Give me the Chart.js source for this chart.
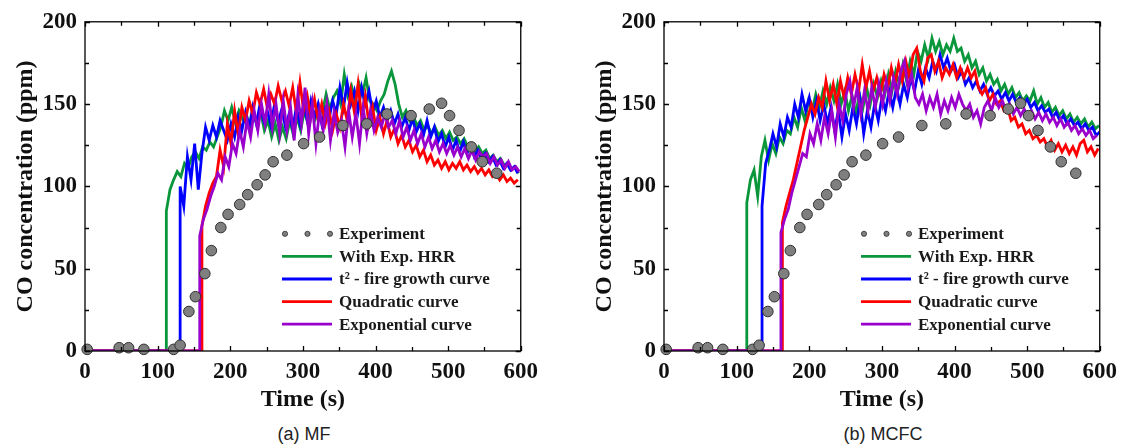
<!DOCTYPE html>
<html>
<head>
<meta charset="utf-8">
<script src="https://cdn.jsdelivr.net/npm/chart.js@4.4.1/dist/chart.umd.min.js"></script>
<style>
  html, body { margin: 0; padding: 0; background: #fff; }
  body { width: 1126px; height: 448px; position: relative; overflow: hidden; }
  .panel { position: absolute; top: 0; width: 545px; height: 420px; }
  .caption {
    position: absolute; top: 424px; width: 200px; text-align: center;
    font: 18px "Liberation Sans", Arial, sans-serif; color: #222;
  }
</style>
</head>
<body>
<div class="panel" style="left:0px"><canvas id="mf" width="545" height="420"></canvas></div>
<div class="panel" style="left:579px"><canvas id="mcfc" width="545" height="420"></canvas></div>
<div class="caption" style="left:204px">(a) MF</div>
<div class="caption" style="left:783px">(b) MCFC</div>
<script>
// sample spacing of the simulated traces (s)
const STEP = 5;

// measured CO (same test series in both panels)
const expTime = [3, 47, 60, 81, 122, 131, 143, 152, 165, 174, 187, 197, 213, 224, 237, 248, 259, 278, 301, 323, 355, 388, 416, 449, 474, 491, 502, 515, 532, 547, 567];
const expConc = [1, 2, 2, 1, 1, 3.5, 24, 33, 47, 61, 75, 83, 89, 95, 101, 107, 115, 119, 126, 130, 137, 138, 144, 143, 147, 150.5, 143, 134, 124, 115, 108];

// (a) MF — simulated traces, each starts at its onset time
const mfHrrStart = 112;
const mfHrr = [85, 98, 104, 109, 106, 114, 111, 118, 121, 117, 124, 122, 127, 124, 130, 136, 146, 140, 148, 139,
  146, 141, 144, 136, 142, 138, 145, 134, 140, 130, 138, 128, 136, 129, 140, 131, 142, 134, 146, 138,
  150, 141, 148, 145, 156, 147, 154, 158, 150, 168, 155, 161, 152, 163, 156, 166, 152, 150, 146, 152,
  156, 164, 170, 162, 150, 142, 146, 140, 143, 137, 140, 134, 137, 132, 136, 131, 134, 129, 133, 128,
  130, 126, 129, 124, 126, 121, 124, 120, 122, 117, 119, 115, 117, 113, 114, 110, 112, 108];
const mfT2Start = 131;
const mfT2 = [100, 88, 118, 104, 126, 98, 120, 136, 128, 137, 130, 140, 134, 128, 138, 130, 142, 134, 145, 136,
  148, 138, 150, 140, 146, 137, 150, 139, 147, 136, 144, 135, 148, 138, 150, 140, 152, 142, 150, 138,
  147, 141, 152, 144, 160, 148, 163, 150, 158, 146, 160, 150, 158, 145, 152, 142, 148, 140, 146, 138,
  144, 136, 142, 134, 141, 133, 138, 131, 140, 130, 136, 127, 132, 124, 130, 122, 128, 121, 127, 120,
  125, 118, 122, 117, 120, 115, 118, 113, 116, 111, 114, 110, 112, 108];
const mfQuadStart = 161;
const mfQuad = [76, 88, 96, 102, 106, 122, 112, 138, 126, 146, 132, 148, 140, 152, 144, 157, 150, 159, 148, 156,
  150, 161, 152, 158, 149, 160, 145, 163, 146, 155, 142, 153, 140, 150, 138, 146, 134, 144, 136, 150,
  140, 158, 145, 162, 142, 155, 138, 148, 134, 142, 132, 140, 130, 135, 126, 131, 124, 128, 121, 125,
  118, 122, 115, 119, 113, 116, 111, 115, 110, 114, 111, 115, 110, 113, 109, 112, 108, 111, 107, 110,
  106, 108, 104, 107, 103, 105, 102, 104];
const mfExpoStart = 158;
const mfExpo = [70, 80, 86, 94, 100, 108, 104, 118, 112, 126, 120, 134, 124, 140, 130, 146, 134, 150, 138, 156,
  136, 150, 132, 152, 134, 148, 128, 155, 138, 160, 132, 150, 126, 146, 134, 150, 128, 145, 133, 140,
  124, 146, 130, 144, 126, 148, 132, 146, 134, 142, 136, 144, 136, 140, 132, 140, 130, 136, 128, 134,
  126, 132, 124, 130, 123, 128, 121, 126, 120, 125, 119, 124, 118, 123, 117, 122, 116, 121, 118, 120,
  114, 118, 113, 116, 111, 115, 110, 112, 109];

// (b) MCFC — simulated traces
const mcfcHrrStart = 114;
const mcfcHrr = [90, 104, 110, 94, 118, 128, 116, 126, 120, 130, 126, 134, 132, 142, 136, 148, 140, 152, 146, 156,
  148, 158, 150, 160, 152, 162, 150, 158, 146, 155, 144, 156, 148, 160, 150, 162, 154, 164, 156, 168,
  158, 170, 162, 174, 164, 176, 168, 182, 176, 186, 178, 190, 182, 188, 180, 186, 182, 190, 182, 184,
  176, 180, 172, 176, 168, 172, 164, 168, 162, 165, 158, 162, 156, 160, 154, 157, 152, 155, 152, 158,
  150, 154, 148, 151, 145, 148, 143, 146, 141, 144, 139, 142, 138, 141, 136, 139, 135, 137];
const mcfcT2Start = 135;
const mcfcT2 = [88, 114, 122, 132, 124, 138, 130, 142, 136, 150, 142, 156, 146, 154, 142, 152, 140, 150, 138, 148,
  134, 146, 130, 144, 134, 148, 138, 152, 132, 146, 136, 150, 140, 154, 146, 158, 148, 160, 150, 162,
  154, 166, 158, 170, 162, 172, 166, 176, 170, 180, 172, 178, 170, 174, 166, 170, 162, 166, 160, 164,
  158, 162, 156, 160, 155, 158, 153, 157, 152, 156, 151, 154, 150, 153, 148, 151, 146, 149, 145, 147,
  142, 145, 140, 143, 138, 141, 137, 139, 135, 138, 134, 136, 131, 133];
const mcfcQuadStart = 163;
const mcfcQuad = [78, 88, 96, 104, 114, 124, 134, 142, 150, 144, 154, 148, 164, 152, 162, 150, 164, 154, 166, 156,
  168, 158, 174, 160, 170, 158, 166, 156, 168, 160, 172, 162, 174, 164, 176, 166, 180, 184, 170, 164,
  178, 180, 170, 176, 166, 172, 168, 174, 166, 172, 166, 172, 166, 170, 160, 156, 160, 152, 156, 150,
  152, 146, 148, 140, 142, 136, 138, 132, 134, 129, 131, 127, 129, 124, 128, 122, 126, 121, 125, 120,
  124, 119, 126, 128, 121, 124, 119, 123];
const mcfcExpoStart = 161;
const mcfcExpo = [72, 80, 86, 96, 104, 112, 120, 118, 132, 126, 138, 128, 142, 132, 146, 130, 150, 140, 156, 164,
  148, 160, 144, 158, 146, 160, 148, 162, 150, 164, 152, 166, 156, 170, 176, 160, 168, 154, 150, 156,
  146, 154, 148, 156, 144, 152, 146, 154, 148, 156, 150, 146, 150, 142, 146, 138, 148, 152, 146, 154,
  148, 152, 146, 150, 144, 148, 143, 147, 142, 146, 141, 145, 140, 144, 139, 142, 137, 141, 136, 139,
  134, 137, 132, 135, 131, 134, 129, 131];

const SERIF = '"Liberation Serif", "Times New Roman", serif';

function trace(start, vals) {
  const pts = [{ x: 0, y: 0 }, { x: start, y: 0 }];
  vals.forEach((v, i) => pts.push({ x: start + i * STEP, y: v }));
  return pts;
}

// closed frame with inward ticks on all four sides
const framePlugin = {
  id: 'frame',
  afterDraw(chart) {
    const { ctx, chartArea: { left, right, top, bottom }, scales: { x, y } } = chart;
    ctx.save();
    ctx.strokeStyle = '#000';
    ctx.lineWidth = 1.3;
    ctx.strokeRect(left, top, right - left, bottom - top);
    ctx.beginPath();
    for (let t = 0; t <= 600; t += 50) {
      const px = Math.round(x.getPixelForValue(t)) + 0.5;
      const len = t % 100 === 0 ? 5 : 4;
      ctx.moveTo(px, bottom); ctx.lineTo(px, bottom - len);
      ctx.moveTo(px, top); ctx.lineTo(px, top + len);
    }
    for (let v = 0; v <= 200; v += 25) {
      const py = Math.round(y.getPixelForValue(v)) + 0.5;
      const len = v % 50 === 0 ? 5 : 4;
      ctx.moveTo(left, py); ctx.lineTo(left + len, py);
      ctx.moveTo(right, py); ctx.lineTo(right - len, py);
    }
    ctx.stroke();
    ctx.restore();
  }
};

// legend drawn inside the plot area
const legendOrder = ['Experiment', 'With Exp. HRR', 't² - fire growth curve', 'Quadratic curve', 'Exponential curve'];
const boxLegend = {
  id: 'boxLegend',
  afterDraw(chart) {
    const { ctx, chartArea: { left, top } } = chart;
    const x0 = left + 197, y0 = top + 212, row = 22.6;
    ctx.save();
    ctx.font = 'bold 17px ' + SERIF;
    ctx.textBaseline = 'middle';
    legendOrder.forEach((name, i) => {
      const ds = chart.data.datasets.find(d => d.label === name);
      const yy = y0 + i * row;
      if (ds.showLine === false) {
        [3, 25.5, 48].forEach(dx => {
          ctx.beginPath();
          ctx.arc(x0 + dx, yy, 2.6, 0, Math.PI * 2);
          ctx.fillStyle = ds.backgroundColor;
          ctx.fill();
          ctx.lineWidth = 0.8;
          ctx.strokeStyle = ds.borderColor;
          ctx.stroke();
        });
      } else {
        ctx.beginPath();
        ctx.moveTo(x0, yy); ctx.lineTo(x0 + 50, yy);
        ctx.lineWidth = 2.8;
        ctx.strokeStyle = ds.borderColor;
        ctx.stroke();
      }
      ctx.fillStyle = '#1a1a1a';
      ctx.fillText(name, x0 + 57, yy + 1);
    });
    ctx.restore();
  }
};

function makeChart(id, hrr, t2, quad, expo) {
  const line = (label, color, data) => ({
    label, data, showLine: true, borderColor: color, backgroundColor: color,
    borderWidth: 2.8, pointRadius: 0, tension: 0
  });
  new Chart(document.getElementById(id), {
    type: 'scatter',
    data: {
      datasets: [
        {
          label: 'Experiment',
          data: expTime.map((t, i) => ({ x: t, y: expConc[i] })),
          showLine: false, pointRadius: 5.3, pointBorderWidth: 1,
          backgroundColor: '#7f7f7f', borderColor: '#2e2e2e', clip: false
        },
        line('Exponential curve', '#9900cc', expo),
        line('Quadratic curve', '#ff0000', quad),
        line('t² - fire growth curve', '#0000ff', t2),
        line('With Exp. HRR', '#0a963a', hrr)
      ]
    },
    options: {
      responsive: false,
      animation: false,
      layout: { padding: { left: 0, right: 23, top: 21, bottom: 0 } },
      plugins: { legend: { display: false }, tooltip: { enabled: false } },
      scales: {
        x: {
          type: 'linear', min: 0, max: 600,
          afterFit: s => { s.height = 69; },
          grid: { display: false, drawTicks: false },
          border: { display: false },
          ticks: { stepSize: 100, padding: 7, color: '#111', font: { family: SERIF, size: 23, weight: 'bold' } },
          title: { display: true, text: 'Time (s)', color: '#111', padding: { top: 0, bottom: 6 },
                   font: { family: SERIF, size: 24, weight: 'bold' } }
        },
        y: {
          min: 0, max: 200,
          afterFit: s => { s.width = 85; },
          grid: { display: false, drawTicks: false },
          border: { display: false },
          ticks: { stepSize: 50, padding: 8, color: '#111', font: { family: SERIF, size: 23, weight: 'bold' } },
          title: { display: true, text: 'CO concentration (ppm)', color: '#111', padding: { top: 11, bottom: 0 },
                   font: { family: SERIF, size: 24, weight: 'bold' } }
        }
      }
    },
    plugins: [framePlugin, boxLegend]
  });
}

makeChart('mf', trace(mfHrrStart, mfHrr), trace(mfT2Start, mfT2), trace(mfQuadStart, mfQuad), trace(mfExpoStart, mfExpo));
makeChart('mcfc', trace(mcfcHrrStart, mcfcHrr), trace(mcfcT2Start, mcfcT2), trace(mcfcQuadStart, mcfcQuad), trace(mcfcExpoStart, mcfcExpo));
</script>
</body>
</html>
